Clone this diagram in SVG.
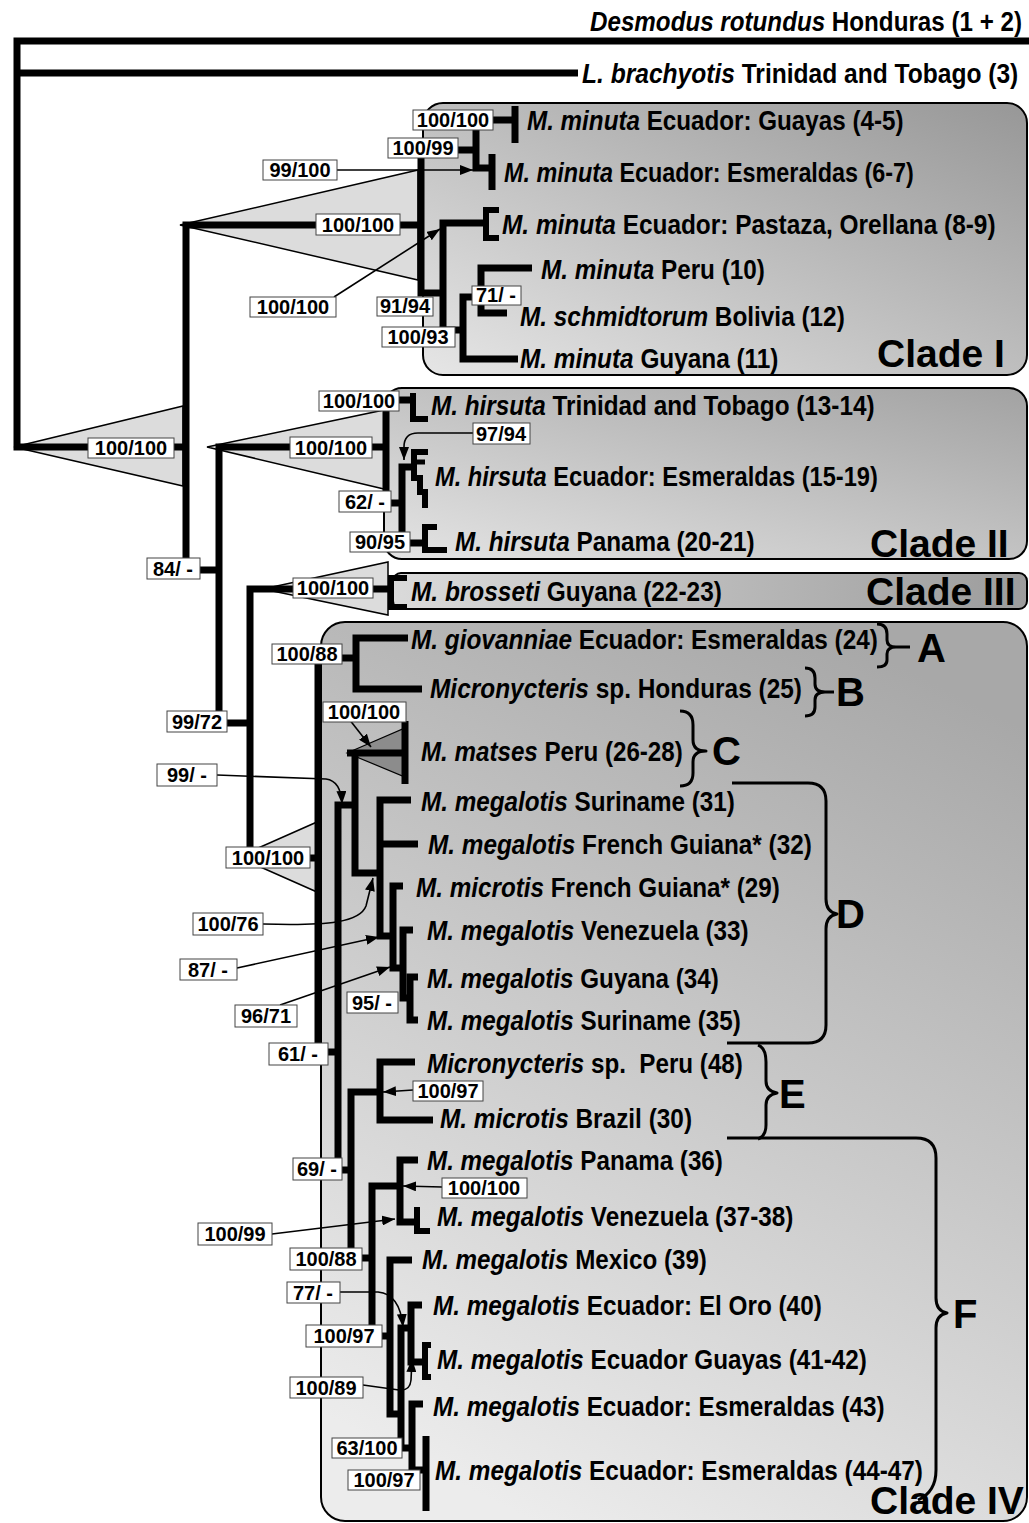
<svg xmlns="http://www.w3.org/2000/svg" width="1029" height="1523" viewBox="0 0 1029 1523">
<style>
.bg{fill:#fff}
.box{stroke:#000;stroke-width:2}
.tri{fill:#dcdcdc;stroke:#000;stroke-width:1.5}
.tri2{fill:#8c8c8c;stroke:#000;stroke-width:1.2}
.br{fill:none;stroke:#000;stroke-width:7;stroke-linejoin:miter;stroke-linecap:butt}
.tp{stroke-width:6}
.ar{fill:none;stroke:#000;stroke-width:1.6;marker-end:url(#ah)}
.brace{fill:none;stroke:#000;stroke-width:3;stroke-linejoin:round}
.tx{font-family:"Liberation Sans",Arial,Helvetica,sans-serif;font-weight:bold;font-size:28px;fill:#000}
.it{font-style:italic}
.cl{font-size:39px}
.lt{font-family:"Liberation Sans",Arial,Helvetica,sans-serif;font-weight:bold;font-size:40px;fill:#000}
.lb rect{fill:#fff;stroke:#444;stroke-width:1}
.lb text{font-family:"Liberation Sans",Arial,Helvetica,sans-serif;font-weight:bold;font-size:20px;text-anchor:middle;fill:#000}
</style>
<defs>
<linearGradient id="gI" x1="1" y1="0" x2="0" y2="1"><stop offset="0" stop-color="#979797"/><stop offset="1" stop-color="#e6e6e6"/></linearGradient>
<linearGradient id="gII" x1="1" y1="0" x2="0" y2="1"><stop offset="0" stop-color="#a2a2a2"/><stop offset="1" stop-color="#e4e4e4"/></linearGradient>
<linearGradient id="gIII" x1="0" y1="0" x2="1" y2="0"><stop offset="0" stop-color="#dadada"/><stop offset="1" stop-color="#9c9c9c"/></linearGradient>
<linearGradient id="gIV" x1="0.7" y1="0" x2="0.3" y2="1"><stop offset="0" stop-color="#a8a8a8"/><stop offset="1" stop-color="#ececec"/></linearGradient>
<marker id="ah" viewBox="0 0 13 10" refX="13" refY="5" markerWidth="13" markerHeight="10" markerUnits="userSpaceOnUse" orient="auto"><path d="M0,0 L13,5 L0,10 z" fill="#000"/></marker>
</defs>
<rect class="bg" x="0" y="0" width="1029" height="1523"/>

<g id="clade-boxes">
<g id="cladeI-box"><rect class="box" x="423" y="103" width="604" height="272" rx="20" fill="url(#gI)"/></g>
<g id="cladeII-box"><rect class="box" x="384" y="388" width="643" height="171" rx="18" fill="url(#gII)"/></g>
<g id="cladeIII-box"><rect class="box" x="393" y="573" width="634" height="36" rx="8" fill="url(#gIII)"/></g>
<g id="cladeIV-box"><rect class="box" x="321" y="622" width="706" height="899" rx="24" fill="url(#gIV)"/></g>
</g>

<g id="collapse-triangles">
<path class="tri" d="M14,447 L183,406 L183,486 Z"/>
<path class="tri" d="M180,225 L418,170 L418,280 Z"/>
<path class="tri" d="M207,447 L384,410 L384,489 Z"/>
<path class="tri" d="M263,589 L388,562 L388,615 Z"/>
<path class="tri" d="M238,857 L317,822 L317,892 Z"/>
<path class="tri2" d="M347,753 L405,728 L405,777 Z"/>
</g>

<g id="connectors">
<path class="br" d="M1029,41 H17 V447 H186"/>
<path class="br" d="M17,73 H578"/>
<path class="br" d="M421,225 H186 V570 H219"/>
<path class="br" d="M386,447 H219 V723 H250"/>
<path class="br" d="M392,589 H250 V858 H318"/>
<path class="br" d="M476,150 H421 V293 H443"/>
<path class="br" d="M515,120 H476 V168 H492"/>
<path class="br" d="M515,106 V143"/>
<path class="br" d="M492,154 V190"/>
<path class="br" d="M485,223 H443 V330 H463"/>
<path class="br tp" d="M499,210 H486 V238 H499"/>
<path class="br" d="M481,297 H463 V359 H518"/>
<path class="br" d="M532,268 H481 V313 H507"/>
<path class="br" d="M413,400 H386 V503 H402"/>
<path class="br tp" d="M413,393 V419 H428"/>
<path class="br" d="M414,467 H402 V543 H425"/>
<path class="br tp" d="M428,452 H414 V478 H420 V492 H425 V508"/>
<path class="br" style="stroke-width:5" d="M414,462 H425"/>
<path class="br tp" d="M437,527 H425 V550 H447"/>
<path class="br tp" d="M407,578 H391 V607 H407"/>
<path class="br" d="M356,658 H318 V1052 H338"/>
<path class="br" d="M408,638 H356 V689 H422"/>
<path class="br" d="M355,805 H338 V1170 H351"/>
<path class="br" d="M347,753 H405"/>
<path class="br" d="M355,753 V873 H380"/>
<path class="br" d="M405,721 V784"/>
<path class="br" d="M411,800 H380 V936 H393"/>
<path class="br" d="M418,844 H380"/>
<path class="br" d="M403,886 H393 V968 H403"/>
<path class="br" d="M413,930 H403 V998 H410"/>
<path class="br" d="M418,977 H410 V1020 H418"/>
<path class="br" d="M380,1092 H351 V1258 H372"/>
<path class="br" d="M415,1062 H380 V1120 H433"/>
<path class="br" d="M400,1186 H372 V1336 H390"/>
<path class="br" d="M418,1160 H400 V1222 H417"/>
<path class="br tp" d="M417,1207 V1231 H430"/>
<path class="br" d="M412,1260 H390 V1414 H401"/>
<path class="br" d="M411,1328 H401 V1448 H412"/>
<path class="br" d="M422,1305 H411 V1362 H425"/>
<path class="br tp" d="M431,1345 H425 V1377 H431"/>
<path class="br" d="M423,1404 H412 V1470 H426"/>
<path class="br" d="M426,1436 V1511"/>

<path class="ar" d="M337,170 H473"/>
<path class="ar" d="M334,297 L440,229"/>
<path class="ar" d="M473,433 H418 Q404,433 404,447 V460"/>
<path class="ar" d="M349,719 L371,747"/>
<path class="ar" d="M217,775 L326,779 Q341,781 342,804"/>
<path class="ar" d="M263,924 C330,926 360,922 366,906 L373,878"/>
<path class="ar" d="M237,968 L379,937"/>
<path class="ar" d="M280,1005 L390,967"/>
<path class="ar" d="M413,1090 L383,1092"/>
<path class="ar" d="M442,1187 L403,1186"/>
<path class="ar" d="M272,1234 L395,1219"/>
<path class="ar" d="M340,1292 L378,1292 Q400,1294 403,1327"/>
<path class="ar" d="M363,1385 L399,1390 Q410,1391 411,1380 L412,1359"/>

<path class="brace" d="M877,624 Q887,624 887,634 L887,640 Q887,647 896,647 Q887,647 887,654 L887,660 Q887,667 877,667 M896,647 H910"/>
<path class="brace" d="M805,668 Q815,668 815,678 L815,684 Q815,692 825,692 Q815,692 815,700 L815,707 Q815,716 805,716 M825,692 H834"/>
<path class="brace" d="M680,711 Q693,711 693,725 L693,740 Q693,751 706,751 Q693,751 693,762 L693,773 Q693,786 680,786"/>
<path class="brace" d="M732,783 L808,783 Q826,783 826,801 L826,899 Q826,912 837,914 Q826,916 826,929 L826,1025 Q826,1043 808,1043 L727,1043"/>
<path class="brace" d="M758,1045 Q766,1048 766,1062 L766,1081 Q766,1091 777,1093 Q766,1095 766,1105 L766,1125 Q766,1136 758,1139"/>
<path class="brace" d="M727,1138 L916,1138 Q936,1138 936,1158 L936,1298 Q936,1311 947,1313 Q936,1315 936,1328 L936,1470 Q936,1492 918,1500"/>
</g>

<g id="taxa">
<g id="t1"><text class="tx" transform="translate(590,31) scale(0.864,1)"><tspan class="it">Desmodus rotundus</tspan> Honduras (1 + 2)</text></g>
<g id="t2"><text class="tx" transform="translate(582,83) scale(0.878,1)"><tspan class="it">L. brachyotis</tspan> Trinidad and Tobago (3)</text></g>
<g id="t3"><text class="tx" transform="translate(527,130) scale(0.865,1)"><tspan class="it">M. minuta</tspan> Ecuador: Guayas (4-5)</text></g>
<g id="t4"><text class="tx" transform="translate(504,182) scale(0.834,1)"><tspan class="it">M. minuta</tspan> Ecuador: Esmeraldas (6-7)</text></g>
<g id="t5"><text class="tx" transform="translate(502,234) scale(0.872,1)"><tspan class="it">M. minuta</tspan> Ecuador: Pastaza, Orellana (8-9)</text></g>
<g id="t6"><text class="tx" transform="translate(541,279) scale(0.867,1)"><tspan class="it">M. minuta</tspan> Peru (10)</text></g>
<g id="t7"><text class="tx" transform="translate(520,326) scale(0.870,1)"><tspan class="it">M. schmidtorum</tspan> Bolivia (12)</text></g>
<g id="t8"><text class="tx" transform="translate(520,368) scale(0.870,1)"><tspan class="it">M. minuta</tspan> Guyana (11)</text></g>
<g id="c1"><text class="tx cl" x="877" y="367">Clade I</text></g>
<g id="t9"><text class="tx" transform="translate(431,415) scale(0.868,1)"><tspan class="it">M. hirsuta</tspan> Trinidad and Tobago (13-14)</text></g>
<g id="t10"><text class="tx" transform="translate(435,486) scale(0.845,1)"><tspan class="it">M. hirsuta</tspan> Ecuador: Esmeraldas (15-19)</text></g>
<g id="t11"><text class="tx" transform="translate(455,551) scale(0.868,1)"><tspan class="it">M. hirsuta</tspan> Panama (20-21)</text></g>
<g id="c2"><text class="tx cl" x="870" y="557">Clade II</text></g>
<g id="t12"><text class="tx" transform="translate(411,601) scale(0.873,1)"><tspan class="it">M. brosseti</tspan> Guyana (22-23)</text></g>
<g id="c3"><text class="tx cl" x="866" y="605">Clade III</text></g>
<g id="t13"><text class="tx" transform="translate(411,649) scale(0.870,1)"><tspan class="it">M. giovanniae</tspan> Ecuador: Esmeraldas (24)</text></g>
<g id="t14"><text class="tx" transform="translate(430,698) scale(0.873,1)"><tspan class="it">Micronycteris</tspan> sp. Honduras (25)</text></g>
<g id="t15"><text class="tx" transform="translate(421,761) scale(0.863,1)"><tspan class="it">M. matses</tspan> Peru (26-28)</text></g>
<g id="t16"><text class="tx" transform="translate(421,811) scale(0.866,1)"><tspan class="it">M. megalotis</tspan> Suriname (31)</text></g>
<g id="t17"><text class="tx" transform="translate(428,854) scale(0.869,1)"><tspan class="it">M. megalotis</tspan> French Guiana* (32)</text></g>
<g id="t18"><text class="tx" transform="translate(416,897) scale(0.866,1)"><tspan class="it">M. microtis</tspan> French Guiana* (29)</text></g>
<g id="t19"><text class="tx" transform="translate(427,940) scale(0.869,1)"><tspan class="it">M. megalotis</tspan> Venezuela (33)</text></g>
<g id="t20"><text class="tx" transform="translate(427,988) scale(0.865,1)"><tspan class="it">M. megalotis</tspan> Guyana (34)</text></g>
<g id="t21"><text class="tx" transform="translate(427,1030) scale(0.866,1)"><tspan class="it">M. megalotis</tspan> Suriname (35)</text></g>
<g id="t22"><text class="tx" transform="translate(427,1073) scale(0.864,1)" xml:space="preserve"><tspan class="it">Micronycteris</tspan> sp.  Peru (48)</text></g>
<g id="t23"><text class="tx" transform="translate(440,1128) scale(0.871,1)"><tspan class="it">M. microtis</tspan> Brazil (30)</text></g>
<g id="t24"><text class="tx" transform="translate(427,1170) scale(0.865,1)"><tspan class="it">M. megalotis</tspan> Panama (36)</text></g>
<g id="t25"><text class="tx" transform="translate(437,1226) scale(0.868,1)"><tspan class="it">M. megalotis</tspan> Venezuela (37-38)</text></g>
<g id="t26"><text class="tx" transform="translate(422,1269) scale(0.864,1)"><tspan class="it">M. megalotis</tspan> Mexico (39)</text></g>
<g id="t27"><text class="tx" transform="translate(433,1315) scale(0.868,1)"><tspan class="it">M. megalotis</tspan> Ecuador: El Oro (40)</text></g>
<g id="t28"><text class="tx" transform="translate(437,1369) scale(0.866,1)"><tspan class="it">M. megalotis</tspan> Ecuador Guayas (41-42)</text></g>
<g id="t29"><text class="tx" transform="translate(433,1416) scale(0.867,1)"><tspan class="it">M. megalotis</tspan> Ecuador: Esmeraldas (43)</text></g>
<g id="t30"><text class="tx" transform="translate(435,1480) scale(0.869,1)"><tspan class="it">M. megalotis</tspan> Ecuador: Esmeraldas (44-47)</text></g>
<g id="c4"><text class="tx cl" x="870" y="1514">Clade IV</text></g>
</g>

<g id="group-letters">
<g id="gA"><text class="lt" x="917" y="662">A</text></g>
<g id="gB"><text class="lt" x="836" y="706">B</text></g>
<g id="gC"><text class="lt" x="712" y="765">C</text></g>
<g id="gD"><text class="lt" x="836" y="928">D</text></g>
<g id="gE"><text class="lt" x="779" y="1108">E</text></g>
<g id="gF"><text class="lt" x="953" y="1328">F</text></g>
</g>

<g id="support-labels">
<g class="lb" id="s1"><rect x="413" y="110" width="80" height="20"/><text x="453" y="127">100/100</text></g>
<g class="lb" id="s2"><rect x="388" y="138" width="70" height="20"/><text x="423" y="155">100/99</text></g>
<g class="lb" id="s3"><rect x="263" y="160" width="74" height="20"/><text x="300" y="177">99/100</text></g>
<g class="lb" id="s4"><rect x="316" y="214" width="84" height="21"/><text x="358" y="232">100/100</text></g>
<g class="lb" id="s5"><rect x="250" y="297" width="86" height="20"/><text x="293" y="314">100/100</text></g>
<g class="lb" id="s6"><rect x="377" y="297" width="56" height="19"/><text x="405" y="313">91/94</text></g>
<g class="lb" id="s7"><rect x="382" y="327" width="73" height="20"/><text x="418" y="344">100/93</text></g>
<g class="lb" id="s8"><rect x="472" y="286" width="49" height="19"/><text x="496" y="302">71/ -</text></g>
<g class="lb" id="s9"><rect x="88" y="438" width="86" height="20"/><text x="131" y="455">100/100</text></g>
<g class="lb" id="s10"><rect x="147" y="558" width="53" height="21"/><text x="173" y="576">84/ -</text></g>
<g class="lb" id="s11"><rect x="319" y="391" width="80" height="20"/><text x="359" y="408">100/100</text></g>
<g class="lb" id="s12"><rect x="290" y="437" width="82" height="21"/><text x="331" y="455">100/100</text></g>
<g class="lb" id="s13"><rect x="473" y="423" width="57" height="21"/><text x="501" y="441">97/94</text></g>
<g class="lb" id="s14"><rect x="339" y="491" width="52" height="21"/><text x="365" y="509">62/ -</text></g>
<g class="lb" id="s15"><rect x="350" y="532" width="60" height="20"/><text x="380" y="549">90/95</text></g>
<g class="lb" id="s16"><rect x="293" y="578" width="80" height="20"/><text x="333" y="595">100/100</text></g>
<g class="lb" id="s17"><rect x="272" y="644" width="70" height="20"/><text x="307" y="661">100/88</text></g>
<g class="lb" id="s18"><rect x="167" y="711" width="60" height="21"/><text x="197" y="729">99/72</text></g>
<g class="lb" id="s19"><rect x="323" y="702" width="83" height="20"/><text x="364" y="719">100/100</text></g>
<g class="lb" id="s20"><rect x="157" y="764" width="60" height="22"/><text x="187" y="782">99/ -</text></g>
<g class="lb" id="s21"><rect x="226" y="847" width="84" height="21"/><text x="268" y="865">100/100</text></g>
<g class="lb" id="s22"><rect x="193" y="913" width="70" height="22"/><text x="228" y="931">100/76</text></g>
<g class="lb" id="s23"><rect x="180" y="959" width="57" height="21"/><text x="208" y="977">87/ -</text></g>
<g class="lb" id="s24"><rect x="235" y="1005" width="62" height="22"/><text x="266" y="1023">96/71</text></g>
<g class="lb" id="s25"><rect x="347" y="992" width="51" height="21"/><text x="372" y="1010">95/ -</text></g>
<g class="lb" id="s26"><rect x="269" y="1043" width="59" height="22"/><text x="298" y="1061">61/ -</text></g>
<g class="lb" id="s27"><rect x="413" y="1081" width="70" height="20"/><text x="448" y="1098">100/97</text></g>
<g class="lb" id="s28"><rect x="293" y="1158" width="49" height="22"/><text x="317" y="1176">69/ -</text></g>
<g class="lb" id="s29"><rect x="442" y="1178" width="85" height="20"/><text x="484" y="1195">100/100</text></g>
<g class="lb" id="s30"><rect x="198" y="1223" width="74" height="22"/><text x="235" y="1241">100/99</text></g>
<g class="lb" id="s31"><rect x="290" y="1248" width="72" height="22"/><text x="326" y="1266">100/88</text></g>
<g class="lb" id="s32"><rect x="287" y="1282" width="53" height="21"/><text x="313" y="1300">77/ -</text></g>
<g class="lb" id="s33"><rect x="306" y="1325" width="76" height="22"/><text x="344" y="1343">100/97</text></g>
<g class="lb" id="s34"><rect x="290" y="1377" width="73" height="21"/><text x="326" y="1395">100/89</text></g>
<g class="lb" id="s35"><rect x="332" y="1438" width="70" height="20"/><text x="367" y="1455">63/100</text></g>
<g class="lb" id="s36"><rect x="348" y="1470" width="72" height="20"/><text x="384" y="1487">100/97</text></g>
</g>
</svg>
